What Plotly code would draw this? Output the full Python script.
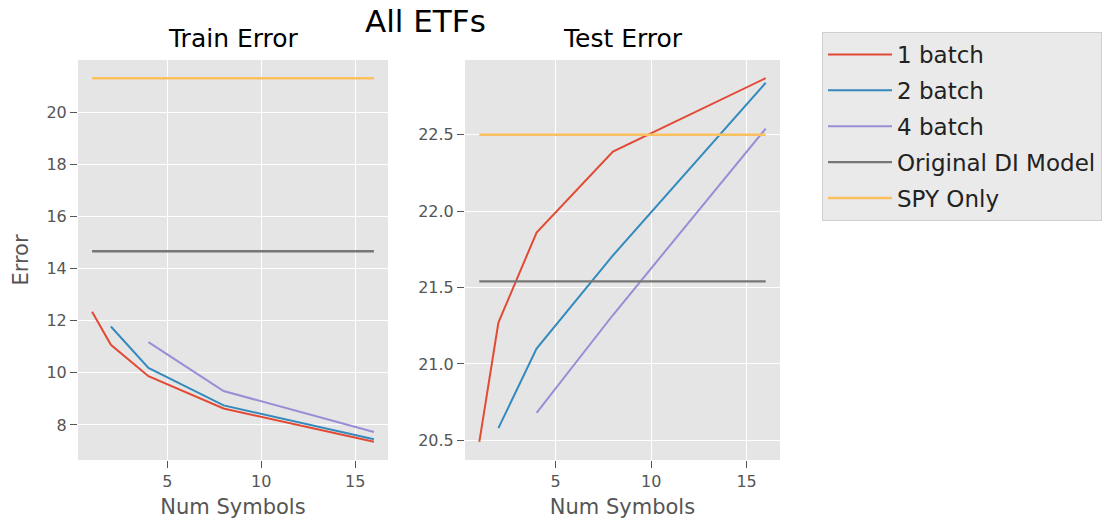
import plotly.graph_objects as go

# ---------------- data ----------------
sym_1 = [1, 2, 4, 8, 16]
sym_2 = [2, 4, 8, 16]
sym_4 = [4, 8, 16]
baseline_x = [1, 16]

train_1batch = [12.35, 11.08, 9.87, 8.63, 7.35]
train_2batch = [11.78, 10.19, 8.75, 7.45]
train_4batch = [11.18, 9.30, 7.73]
train_orig_di = 14.67
train_spy = 21.32

test_1batch = [20.49, 21.27, 21.86, 22.39, 22.87]
test_2batch = [20.58, 21.10, 21.71, 22.84]
test_4batch = [20.68, 21.32, 22.54]
test_orig_di = 21.54
test_spy = 22.50

series_names = ["1 batch", "2 batch", "4 batch", "Original DI Model", "SPY Only"]
colors = ["#E24A33", "#348ABD", "#988ED5", "#777777", "#FBC15E"]

x_ticks = [5, 10, 15]
train_ticks = [8, 10, 12, 14, 16, 18, 20]
test_ticks = [20.5, 21.0, 21.5, 22.0, 22.5]

# ---------------- figure ----------------
W, H = 1107, 525
fig = go.Figure()

def add_panel(xa, ya, ys, base_di, base_spy, show):
    xs = [sym_1, sym_2, sym_4]
    for i in range(3):
        fig.add_trace(go.Scatter(x=xs[i], y=ys[i], mode="lines", name=series_names[i],
                                 line=dict(color=colors[i], width=2), showlegend=show,
                                 legendgroup=series_names[i], xaxis=xa, yaxis=ya))
    fig.add_trace(go.Scatter(x=baseline_x, y=[base_di, base_di], mode="lines", name=series_names[3],
                             line=dict(color=colors[3], width=2.4), showlegend=show,
                             legendgroup=series_names[3], xaxis=xa, yaxis=ya))
    fig.add_trace(go.Scatter(x=baseline_x, y=[base_spy, base_spy], mode="lines", name=series_names[4],
                             line=dict(color=colors[4], width=2.4), showlegend=show,
                             legendgroup=series_names[4], xaxis=xa, yaxis=ya))

add_panel("x", "y", [train_1batch, train_2batch, train_4batch], train_orig_di, train_spy, True)
add_panel("x2", "y2", [test_1batch, test_2batch, test_4batch], test_orig_di, test_spy, False)

top_px, bot_px = 60, 460
ydom = [(H - bot_px) / H, (H - top_px) / H]
xdom1 = [78 / W, 388 / W]
xdom2 = [465 / W, 780 / W]

tickfont = dict(family="DejaVu Sans", size=16, color="#555555")
axis_common = dict(showgrid=True, gridcolor="white", gridwidth=1.2, zeroline=False,
                   ticks="outside", ticklen=7, tickwidth=1, tickcolor="#555555", tickfont=tickfont,
                   showline=False)

def data_range(vals):
    lo, hi = min(vals), max(vals)
    pad = (hi - lo) * 0.05
    return [lo - pad, hi + pad]

all_x = sym_1 + sym_2 + sym_4 + baseline_x
train_all = train_1batch + train_2batch + train_4batch + [train_orig_di, train_spy]
test_all = test_1batch + test_2batch + test_4batch + [test_orig_di, test_spy]

title_font = dict(family="DejaVu Sans", size=21, color="#555555")

fig.update_layout(
    width=W, height=H,
    margin=dict(l=0, r=0, t=0, b=0),
    paper_bgcolor="white",
    plot_bgcolor="#E5E5E5",
    font=dict(family="DejaVu Sans", color="#555555"),
    xaxis=dict(domain=xdom1, anchor="y", range=data_range(all_x), tickvals=x_ticks,
               title=dict(text="Num Symbols", font=title_font, standoff=9),
               **axis_common),
    yaxis=dict(domain=ydom, anchor="x", range=data_range(train_all), tickvals=train_ticks,
               title=dict(text="Error", font=title_font, standoff=12),
               **axis_common),
    xaxis2=dict(domain=xdom2, anchor="y2", range=data_range(all_x), tickvals=x_ticks,
                title=dict(text="Num Symbols", font=title_font, standoff=9),
                **axis_common),
    yaxis2=dict(domain=ydom, anchor="x2", range=data_range(test_all), tickvals=test_ticks,
                tickformat=".1f", **axis_common),
    legend=dict(x=822 / W, y=1 - 32 / H, xanchor="left", yanchor="top",
                bgcolor="#EAEAEA", bordercolor="#D0D0D0", borderwidth=1,
                font=dict(family="DejaVu Sans", size=23, color="#222222"),
                traceorder="grouped", tracegroupgap=3, itemwidth=64),
    annotations=[
        dict(text="All ETFs", x=425 / W, y=1 - 21 / H, xref="paper", yref="paper",
             showarrow=False, font=dict(family="DejaVu Sans", size=31, color="black"),
             xanchor="center", yanchor="middle"),
        dict(text="Train Error", x=(xdom1[0] + xdom1[1]) / 2, y=1 - 38 / H, xref="paper", yref="paper",
             showarrow=False, font=dict(family="DejaVu Sans", size=25, color="black"),
             xanchor="center", yanchor="middle"),
        dict(text="Test Error", x=(xdom2[0] + xdom2[1]) / 2, y=1 - 38 / H, xref="paper", yref="paper",
             showarrow=False, font=dict(family="DejaVu Sans", size=25, color="black"),
             xanchor="center", yanchor="middle"),
    ],
)

fig.write_html("out.html", config={"displayModeBar": False},
               post_script="document.body.style.margin='0';")
